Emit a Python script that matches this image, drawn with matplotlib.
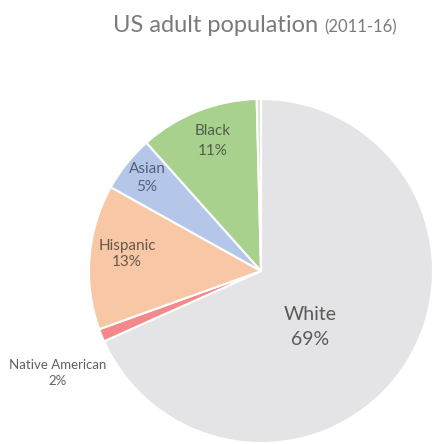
import matplotlib
matplotlib.use("Agg")
import matplotlib.pyplot as plt

# Data
categories = ["White", "Native American", "Hispanic", "Asian", "Black", "Other"]
shares = [68.3, 1.2, 13.6, 5.3, 11.2, 0.4]
label_pcts = ["69%", "2%", "13%", "5%", "11%", ""]
colors = ["#e4e4e6", "#f3898b", "#f8c8a6", "#b5c7e8", "#a9d18e", "#d3e6c4"]

W, H = 435, 444
fig = plt.figure(figsize=(W / 100, H / 100), dpi=100)
ax = fig.add_axes([0, 0, 1, 1])

def py(y):
    return H - y

cx, cy, r = 261, 271, 172
ax.pie(shares, colors=colors, startangle=90, counterclock=False,
       center=(cx, py(cy)), radius=r,
       wedgeprops=dict(edgecolor="white", linewidth=1.5))
ax.set_xlim(0, W)
ax.set_ylim(0, H)
ax.set_aspect("equal")
ax.axis("off")

font = ["Lato", "DejaVu Sans"]

# Title
ax.text(318, py(32), "US adult population", ha="right", va="baseline",
        fontsize=17, color="#7a7a7a", family=font)
ax.text(324, py(32), "(2011-16)", ha="left", va="baseline",
        fontsize=12, color="#7a7a7a", family=font)

# Labels: x, y, fontsize, colour, linespacing
label_pos = {
    "White": (310, 327, 14, "#5a5a5a", 1.55),
    "Native American": (58, 373, 9.5, "#606060", 1.4),
    "Hispanic": (127, 254, 11, "#66574c", 1.25),
    "Asian": (147, 178, 11, "#55607a", 1.3),
    "Black": (213, 141, 11, "#4f5e4a", 1.5),
}
for cat, pct in zip(categories, label_pcts):
    if cat not in label_pos:
        continue
    x, y, fs, col, ls = label_pos[cat]
    ax.text(x, py(y), f"{cat}\n{pct}", ha="center", va="center",
            fontsize=fs, color=col, family=font, linespacing=ls)

fig.savefig("out.png", dpi=100)
